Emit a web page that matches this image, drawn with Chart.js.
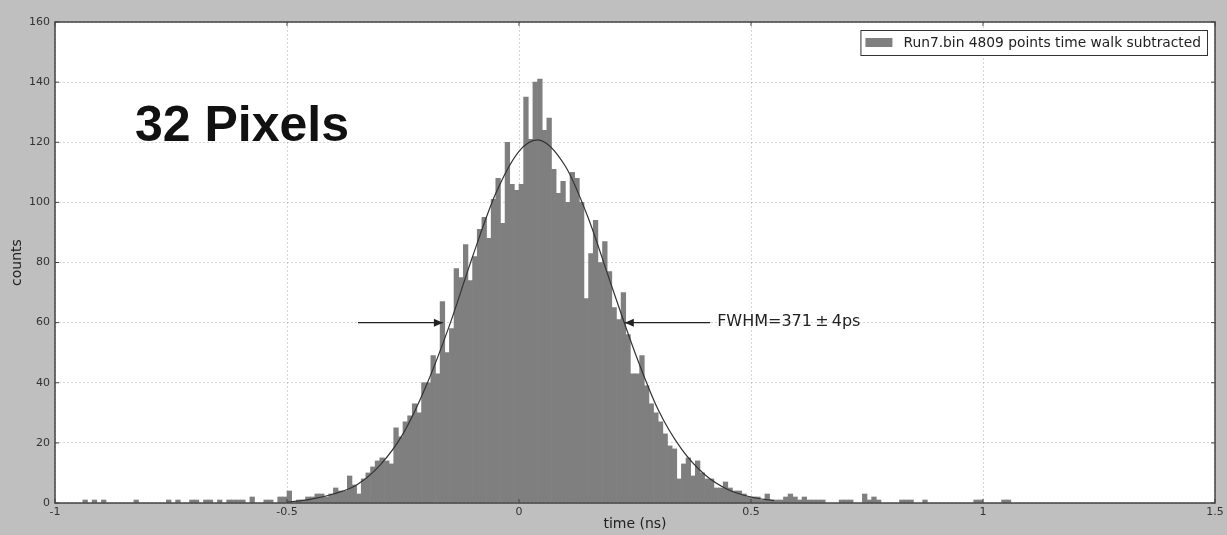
<!DOCTYPE html>
<html>
<head>
<meta charset="utf-8">
<script src="https://cdn.jsdelivr.net/npm/chart.js@4"></script>
<style>
  html, body { margin: 0; padding: 0; background: #bfbfbf; }
  canvas { display: block; }
</style>
</head>
<body>
<canvas id="histChart" width="1227" height="535"></canvas>
<script>
// histogram bins are 0.01 ns wide, each count belongs to the bin starting at its edge
const binWidth = 0.01;

// contiguous part of the histogram, first bin starts at -0.52 ns
const mainStart = -0.52;
const mainCounts = [
  2, 2, 4, 0, 1, 1, 2, 2, 3, 3, 2, 3,            // -0.52 .. -0.41
  5, 4, 4, 9, 6, 3, 8, 10, 12, 14,               // -0.40 .. -0.31
  15, 14, 13, 25, 22, 27, 29, 33, 30, 40,        // -0.30 .. -0.21
  40, 49, 43, 67, 50, 58, 78, 75, 86, 74,        // -0.20 .. -0.11
  82, 91, 95, 88, 101, 108, 93, 120, 106, 104,   // -0.10 .. -0.01
  106, 135, 121, 140, 141, 124, 128, 111, 103, 107, // 0.00 .. 0.09
  100, 110, 108, 100, 68, 83, 94, 80, 87, 77,    // 0.10 .. 0.19
  65, 61, 70, 56, 43, 43, 49, 39, 33, 30,        // 0.20 .. 0.29
  27, 23, 19, 18, 8, 13, 15, 9, 14, 10,          // 0.30 .. 0.39
  8, 8, 5, 5, 7, 5, 4, 4, 3, 2,                  // 0.40 .. 0.49
  2, 2, 1, 3, 1, 1, 1, 2, 3, 2,                  // 0.50 .. 0.59
  1, 2, 1, 1, 1, 1                               // 0.60 .. 0.65
];

// sparse bins in the far tails
const tailEdges = [-0.94, -0.92, -0.90, -0.83, -0.76, -0.74, -0.71, -0.70, -0.68, -0.67,
                   -0.65, -0.63, -0.62, -0.61, -0.60, -0.58, -0.55, -0.54,
                   0.69, 0.70, 0.71, 0.74, 0.75, 0.76, 0.77, 0.82, 0.83, 0.84, 0.87,
                   0.98, 0.99, 1.04, 1.05];
const tailCounts = [1, 1, 1, 1, 1, 1, 1, 1, 1, 1,
                    1, 1, 1, 1, 1, 2, 1, 1,
                    1, 1, 1, 3, 1, 2, 1, 1, 1, 1, 1,
                    1, 1, 1, 1];

// fitted curve
const fitTimes  = [-0.5, -0.45, -0.4, -0.35, -0.3, -0.25, -0.2, -0.15, -0.1, -0.05, 0, 0.04,
                   0.1, 0.15, 0.2, 0.25, 0.3, 0.35, 0.4, 0.45, 0.5, 0.55];
const fitCounts = [0.3, 1.2, 3, 6, 12.5, 23, 39, 59, 82, 103, 117, 120.8,
                   112, 94.5, 72, 50, 31, 18, 9.5, 4.5, 2, 0.8];

const xTicks = [-1, -0.5, 0, 0.5, 1, 1.5];
const yTicks = [0, 20, 40, 60, 80, 100, 120, 140, 160];

const legendLabel = 'Run7.bin 4809 points time walk subtracted';
const fwhmLabel = 'FWHM=371\u2009\u00b1\u20094ps';
const bigLabel = '32 Pixels';
const fwhmLevel = 60;
const fwhmLeft = [-0.347, -0.164];   // arrow tail, arrow tip
const fwhmRight = [0.412, 0.228];

// bars
const bars = [];
mainCounts.forEach((c, i) => {
  bars.push({ x: mainStart + i * binWidth + binWidth / 2, y: c });
});
tailEdges.forEach((e, i) => {
  bars.push({ x: e + binWidth / 2, y: tailCounts[i] });
});
bars.sort((a, b) => a.x - b.x);

const fitLine = fitTimes.map((t, i) => ({ x: t, y: fitCounts[i] }));

const tickFont = { family: 'DejaVu Sans', size: 11 };
const titleFont = { family: 'DejaVu Sans', size: 14 };

function arrow(ctx, x0, x1, y) {
  ctx.beginPath();
  ctx.moveTo(x0, y);
  ctx.lineTo(x1, y);
  ctx.stroke();
  const dir = x1 > x0 ? 1 : -1;
  ctx.beginPath();
  ctx.moveTo(x1, y);
  ctx.lineTo(x1 - dir * 9, y - 4);
  ctx.lineTo(x1 - dir * 9, y + 4);
  ctx.closePath();
  ctx.fill();
}

const decor = {
  id: 'decor',
  beforeDraw(chart) {
    const { ctx, chartArea: a } = chart;
    ctx.save();
    ctx.fillStyle = '#bfbfbf';
    ctx.fillRect(0, 0, chart.width, chart.height);
    ctx.fillStyle = '#ffffff';
    ctx.fillRect(a.left, a.top, a.right - a.left, a.bottom - a.top);
    ctx.restore();
  },
  afterDraw(chart) {
    const { ctx, chartArea: a } = chart;
    const xs = chart.scales.x, ys = chart.scales.y;
    ctx.save();

    // frame and inward ticks
    ctx.strokeStyle = '#444';
    ctx.lineWidth = 1.5;
    ctx.strokeRect(a.left, a.top, a.right - a.left, a.bottom - a.top);
    ctx.lineWidth = 1;
    xTicks.forEach(v => {
      const px = xs.getPixelForValue(v);
      ctx.beginPath();
      ctx.moveTo(px, a.bottom); ctx.lineTo(px, a.bottom - 4);
      ctx.moveTo(px, a.top); ctx.lineTo(px, a.top + 4);
      ctx.stroke();
    });
    yTicks.forEach(v => {
      const py = ys.getPixelForValue(v);
      ctx.beginPath();
      ctx.moveTo(a.left, py); ctx.lineTo(a.left + 4, py);
      ctx.moveTo(a.right, py); ctx.lineTo(a.right - 4, py);
      ctx.stroke();
    });

    // FWHM arrows and label
    const yl = ys.getPixelForValue(fwhmLevel);
    ctx.strokeStyle = '#222';
    ctx.fillStyle = '#222';
    ctx.lineWidth = 1.2;
    arrow(ctx, xs.getPixelForValue(fwhmLeft[0]), xs.getPixelForValue(fwhmLeft[1]), yl);
    arrow(ctx, xs.getPixelForValue(fwhmRight[0]), xs.getPixelForValue(fwhmRight[1]), yl);
    ctx.font = '16px "DejaVu Sans"';
    ctx.textBaseline = 'middle';
    ctx.textAlign = 'left';
    ctx.fillText(fwhmLabel, xs.getPixelForValue(0.427), yl - 1);

    // big label
    ctx.fillStyle = '#111';
    ctx.font = 'bold 50px "Liberation Sans"';
    ctx.textBaseline = 'alphabetic';
    ctx.fillText(bigLabel, a.left + 80, 141);

    // legend box
    ctx.font = '13.8px "DejaVu Sans"';
    const tw = ctx.measureText(legendLabel).width;
    const boxW = tw + 49, boxH = 25;
    const bx = a.right - 8 - boxW, by = a.top + 8;
    ctx.fillStyle = '#fff';
    ctx.fillRect(bx, by, boxW, boxH);
    ctx.strokeStyle = '#333';
    ctx.lineWidth = 1;
    ctx.strokeRect(bx + 0.5, by + 0.5, boxW, boxH);
    ctx.fillStyle = '#7f7f7f';
    ctx.fillRect(bx + 5, by + 8, 27, 9);
    ctx.fillStyle = '#222';
    ctx.textBaseline = 'middle';
    ctx.fillText(legendLabel, bx + 43, by + boxH / 2 + 0.5);

    ctx.restore();
  }
};

const ctx = document.getElementById('histChart').getContext('2d');
const histChart = new Chart(ctx, {
  type: 'bar',
  data: {
    datasets: [
      {
        type: 'line',
        label: 'fit',
        data: fitLine,
        borderColor: '#333',
        borderWidth: 1.2,
        pointRadius: 0,
        fill: false,
        cubicInterpolationMode: 'monotone',
        order: 0
      },
      {
        label: legendLabel,
        data: bars,
        backgroundColor: '#7f7f7f',
        borderWidth: 0,
        barPercentage: 1,
        categoryPercentage: 1,
        order: 1
      }
    ]
  },
  plugins: [decor],
  options: {
    responsive: false,
    animation: false,
    devicePixelRatio: 1,
    layout: { padding: { top: 22, right: 12, left: 0, bottom: 0 } },
    scales: {
      x: {
        type: 'linear',
        min: -1,
        max: 1.5,
        offset: false,
        z: 1,
        afterBuildTicks: s => { s.ticks = xTicks.map(v => ({ value: v })); },
        afterFit: s => { s.height = 32; },
        grid: { offset: false, color: 'rgba(0,0,0,0.16)', drawTicks: false },
        border: { display: false, dash: [2, 2] },
        ticks: { color: '#333', font: tickFont, padding: 3, maxRotation: 0, callback: v => String(v) },
        title: { display: true, text: 'time (ns)', color: '#222', font: titleFont, padding: { top: 0, bottom: 2 } }
      },
      y: {
        min: 0,
        max: 160,
        z: 1,
        afterBuildTicks: s => { s.ticks = yTicks.map(v => ({ value: v })); },
        afterFit: s => { s.width = 55; },
        grid: { color: 'rgba(0,0,0,0.16)', drawTicks: false },
        border: { display: false, dash: [2, 2] },
        ticks: { color: '#333', font: tickFont, padding: 5, callback: v => String(v) },
        title: { display: true, text: 'counts', color: '#222', font: titleFont, padding: { top: 9, bottom: 0 } }
      }
    },
    plugins: {
      legend: { display: false },
      tooltip: { enabled: false }
    }
  }
});
</script>
</body>
</html>
